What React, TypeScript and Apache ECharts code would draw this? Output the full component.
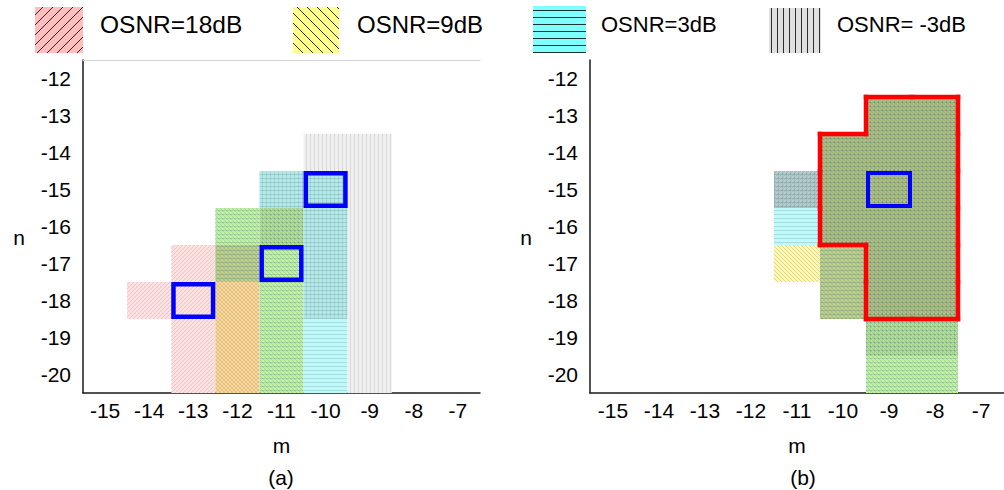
import { useEffect, useRef } from 'react';
import * as echarts from 'echarts';

// Axis categories (m horizontally, n vertically)
const mValues = [-15, -14, -13, -12, -11, -10, -9, -8, -7];
const nValues = [-20, -19, -18, -17, -16, -15, -14, -13, -12];

// Feasible cells per OSNR level, stored as column runs: [m, nFrom, nTo]
const osnr18A = [[-14, -18, -18], [-13, -17, -20], [-12, -17, -20]];
const osnr9A = [[-12, -16, -20], [-11, -16, -20]];
const osnr3A = [[-12, -16, -17], [-11, -15, -20], [-10, -15, -20]];
const osnrM3A = [[-11, -15, -16], [-10, -14, -18], [-9, -14, -20]];

const osnr18B = [[-11, -15, -15], [-10, -14, -18], [-9, -13, -18], [-8, -13, -18]];
const osnr9B = [[-11, -17, -17], [-10, -14, -18], [-9, -13, -20], [-8, -13, -20]];
const osnr3B = [[-11, -15, -16], [-10, -14, -18], [-9, -13, -20], [-8, -13, -20]];
const osnrM3B = [[-11, -15, -15], [-10, -14, -16], [-9, -13, -19], [-8, -13, -19]];

// Optimum (m, n) per panel
const optimumA = [[-13, -18], [-11, -17], [-10, -15]];
const optimumB = [[-9, -15]];

const legendNames = ['OSNR=18dB', 'OSNR=9dB', 'OSNR=3dB', 'OSNR= -3dB'];
const panelLabels = ['(a)', '(b)'];

const FONT = '"Liberation Sans", Arial, Helvetica, sans-serif';

type Hatch = 'fwd' | 'back' | 'h' | 'v';

// Per-level look: tint used inside the plot, hatch direction, hatch ink, legend swatch
const levelStyles: { tint: number[]; hatch: Hatch; ink: string; legendFill: string; legendTile: number }[] = [
  { tint: [252, 225, 225], hatch: 'fwd', ink: 'rgba(60,0,0,0.11)', legendFill: '#ffbebe', legendTile: 10 },
  { tint: [255, 248, 174], hatch: 'back', ink: 'rgba(30,30,0,0.15)', legendFill: '#ffff8c', legendTile: 10 },
  { tint: [192, 249, 249], hatch: 'h', ink: 'rgba(0,60,60,0.14)', legendFill: '#80ffff', legendTile: 7 },
  { tint: [239, 239, 239], hatch: 'v', ink: 'rgba(0,0,0,0.09)', legendFill: '#e0e0e0', legendTile: 6 },
];

function makeTile(T: number, bg: string, hatches: { kind: Hatch; color: string; width: number }[]) {
  const c = document.createElement('canvas');
  c.width = T;
  c.height = T;
  const g = c.getContext('2d')!;
  g.fillStyle = bg;
  g.fillRect(0, 0, T, T);
  for (const h of hatches) {
    g.strokeStyle = h.color;
    g.fillStyle = h.color;
    g.lineWidth = h.width;
    if (h.kind === 'h') {
      g.fillRect(0, Math.floor(T / 2), T, 1);
    } else if (h.kind === 'v') {
      g.fillRect(Math.floor(T / 2), 0, 1, T);
    } else {
      g.beginPath();
      for (const o of [-T, 0, T]) {
        if (h.kind === 'fwd') {
          g.moveTo(o, T);
          g.lineTo(o + T, 0);
        } else {
          g.moveTo(o, 0);
          g.lineTo(o + T, T);
        }
      }
      g.stroke();
    }
  }
  return { image: c.toDataURL(), repeat: 'repeat', imageWidth: T, imageHeight: T };
}

const patternCache: Record<string, any> = {};
function cellPattern(mask: number) {
  const key = 'c' + mask;
  if (!patternCache[key]) {
    const col = [255, 255, 255];
    const hatches: { kind: Hatch; color: string; width: number }[] = [];
    levelStyles.forEach((s, i) => {
      if (mask & (1 << i)) {
        for (let k = 0; k < 3; k++) col[k] = (col[k] * s.tint[k]) / 255;
        hatches.push({ kind: s.hatch, color: s.ink, width: 1 });
      }
    });
    const bg = `rgb(${col.map((v) => Math.round(v)).join(',')})`;
    patternCache[key] = makeTile(4, bg, hatches);
  }
  return patternCache[key];
}

function legendPattern(i: number) {
  const key = 'l' + i;
  if (!patternCache[key]) {
    const s = levelStyles[i];
    patternCache[key] = makeTile(s.legendTile, s.legendFill, [
      { kind: s.hatch, color: 'rgba(0,0,0,0.8)', width: 1 },
    ]);
  }
  return patternCache[key];
}

function expandRuns(runs: number[][]) {
  const out: string[] = [];
  runs.forEach(([m, a, b]) => {
    for (let n = Math.max(a, b); n >= Math.min(a, b); n--) out.push(`${m},${n}`);
  });
  return out;
}

function buildCells(levels: number[][][]) {
  const masks = new Map<string, number>();
  levels.forEach((runs, i) => {
    expandRuns(runs).forEach((k) => masks.set(k, (masks.get(k) || 0) | (1 << i)));
  });
  const cells: number[][] = [];
  masks.forEach((mask, k) => {
    const [m, n] = k.split(',').map(Number);
    cells.push([m - mValues[0], n - nValues[0], mask]);
  });
  return cells;
}

function cellSeries(p: number, cells: number[][]) {
  return {
    type: 'custom',
    xAxisIndex: p,
    yAxisIndex: p,
    silent: true,
    z: 2,
    data: cells,
    renderItem: (_params: any, api: any) => {
      const pt = api.coord([api.value(0), api.value(1)]);
      const sz = api.size([1, 1]);
      return {
        type: 'rect',
        shape: { x: pt[0] - sz[0] / 2, y: pt[1] - sz[1] / 2, width: sz[0], height: sz[1] },
        style: { fill: cellPattern(api.value(2)), stroke: null },
      };
    },
  };
}

// Outline around the cells where every OSNR level is feasible
function outlineSeries(p: number, cells: number[][]) {
  const all = cells.filter((c) => c[2] === 15);
  const has = new Set(all.map((c) => `${c[0]},${c[1]}`));
  return {
    type: 'custom',
    xAxisIndex: p,
    yAxisIndex: p,
    silent: true,
    z: 4,
    data: all.map((c) => [c[0], c[1]]),
    renderItem: (_params: any, api: any) => {
      const i = api.value(0);
      const j = api.value(1);
      const pt = api.coord([i, j]);
      const sz = api.size([1, 1]);
      const x0 = pt[0] - sz[0] / 2;
      const x1 = pt[0] + sz[0] / 2;
      const y0 = pt[1] - sz[1] / 2;
      const y1 = pt[1] + sz[1] / 2;
      const segs: number[][] = [];
      if (!has.has(`${i},${j + 1}`)) segs.push([x0, y0, x1, y0]);
      if (!has.has(`${i},${j - 1}`)) segs.push([x0, y1, x1, y1]);
      if (!has.has(`${i - 1},${j}`)) segs.push([x0, y0, x0, y1]);
      if (!has.has(`${i + 1},${j}`)) segs.push([x1, y0, x1, y1]);
      return {
        type: 'group',
        children: segs.map((s) => ({
          type: 'line',
          shape: { x1: s[0], y1: s[1], x2: s[2], y2: s[3] },
          style: { stroke: '#ff0000', lineWidth: 4.5, lineCap: 'square' },
        })),
      };
    },
  };
}

function optimumSeries(p: number, pts: number[][], lw: number) {
  return {
    type: 'custom',
    xAxisIndex: p,
    yAxisIndex: p,
    silent: true,
    z: 5,
    data: pts.map(([m, n]) => [m - mValues[0], n - nValues[0]]),
    renderItem: (_params: any, api: any) => {
      const pt = api.coord([api.value(0), api.value(1)]);
      const sz = api.size([1, 1]);
      const inset = lw / 2;
      return {
        type: 'rect',
        shape: {
          x: pt[0] - sz[0] / 2 + inset,
          y: pt[1] - sz[1] / 2 + inset,
          width: sz[0] - 2 * inset,
          height: sz[1] - 2 * inset,
        },
        style: { fill: 'none', stroke: '#0000ff', lineWidth: lw },
      };
    },
  };
}

export default function App() {
  const ref = useRef<HTMLDivElement>(null);

  useEffect(() => {
    if (!ref.current) return;
    const chart = echarts.init(ref.current, undefined, { renderer: 'svg' });

    const cellsA = buildCells([osnr18A, osnr9A, osnr3A, osnrM3A]);
    const cellsB = buildCells([osnr18B, osnr9B, osnr3B, osnrM3B]);

    const mLabels = mValues.map(String);
    const nLabels = nValues.map(String);

    const axisLine = { lineStyle: { color: '#1a1a1a', width: 1.5 } };
    const axisTick = { length: 4, lineStyle: { color: '#1a1a1a', width: 1.5 } };

    const xAxisFor = (g: number) => ({
      type: 'category',
      gridIndex: g,
      data: mLabels,
      name: 'm',
      nameLocation: 'middle',
      nameGap: 42,
      nameTextStyle: { fontSize: 21, color: '#000', fontFamily: FONT },
      axisLine,
      axisTick,
      axisLabel: { interval: 0, fontSize: 21, color: '#000', margin: 7, fontFamily: FONT },
      splitLine: { show: false },
    });
    const yAxisFor = (g: number) => ({
      type: 'category',
      gridIndex: g,
      data: nLabels,
      name: 'n',
      nameLocation: 'middle',
      nameRotate: 0,
      nameGap: 58,
      nameTextStyle: { fontSize: 21, color: '#000', fontFamily: FONT, verticalAlign: 'top' },
      axisLine,
      axisTick,
      axisLabel: { interval: 0, fontSize: 21, color: '#000', margin: 12, fontFamily: FONT },
      splitLine: { show: false },
    });

    const legendBoxes = [
      [35, 7, 48, 46],
      [293, 7, 46, 46],
      [533, 6, 53, 47],
      [769, 8, 52, 45],
    ];
    const legendTextX = [100, 357, 601, 837];
    const legendFontSize = [24.5, 24, 22, 22];

    const graphic: any[] = [];
    legendNames.forEach((name, i) => {
      const [x, y, w, h] = legendBoxes[i];
      graphic.push({
        type: 'rect',
        shape: { x, y, width: w, height: h },
        style: { fill: legendPattern(i), stroke: null },
        silent: true,
      });
      graphic.push({
        type: 'text',
        x: legendTextX[i],
        y: 24,
        style: {
          text: name,
          font: `${legendFontSize[i]}px ${FONT}`,
          fill: '#000',
          verticalAlign: 'middle',
        },
        silent: true,
      });
    });
    panelLabels.forEach((t, i) => {
      graphic.push({
        type: 'text',
        x: i === 0 ? 281 : 803,
        y: 477,
        style: { text: t, font: `21px ${FONT}`, fill: '#000', align: 'center', verticalAlign: 'middle' },
        silent: true,
      });
    });

    chart.setOption({
      animation: false,
      textStyle: { fontFamily: FONT },
      grid: [
        { left: 83, top: 60, width: 397, height: 333 },
        { left: 590, top: 60, width: 424, height: 333 },
      ],
      xAxis: [
        xAxisFor(0),
        xAxisFor(1),
        {
          type: 'category',
          gridIndex: 0,
          position: 'top',
          data: mLabels,
          axisLine: { lineStyle: { color: '#d4d4d4', width: 1 } },
          axisTick: { show: false },
          axisLabel: { show: false },
          splitLine: { show: false },
        },
      ],
      yAxis: [yAxisFor(0), yAxisFor(1)],
      series: [
        cellSeries(0, cellsA),
        cellSeries(1, cellsB),
        outlineSeries(0, cellsA),
        outlineSeries(1, cellsB),
        optimumSeries(0, optimumA, 4.5),
        optimumSeries(1, optimumB, 4),
      ],
      graphic,
    });

    return () => chart.dispose();
  }, []);

  return (
    <div
      ref={ref}
      style={{ position: 'fixed', left: 0, top: 0, width: 1004, height: 490, background: '#fff' }}
    />
  );
}
